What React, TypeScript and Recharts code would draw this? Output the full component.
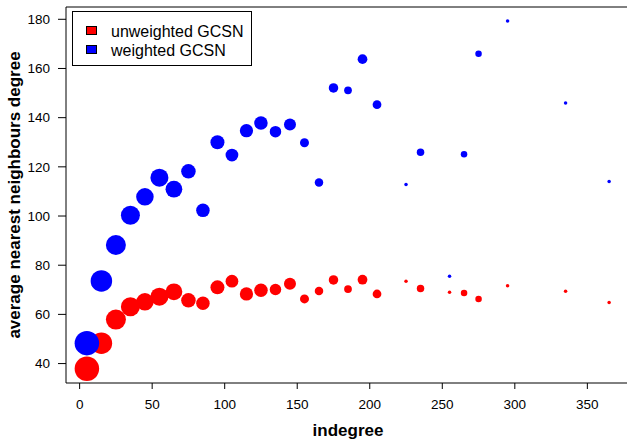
import { ReferenceLine, Scatter, ScatterChart, XAxis, YAxis } from "recharts";

// bin centres on the indegree axis
const indegree = [
  5, 15, 25, 35, 45, 55, 65, 75, 85, 95, 105, 115, 125, 135, 145, 155, 165, 175, 185, 195, 205, 225,
  235, 255, 265, 275, 295, 335, 365,
];

const unweighted = [
  37.9, 48.3, 57.9, 63.1, 65.1, 67.2, 69.2, 65.7, 64.5, 71.0, 73.5, 68.3, 69.8, 70.1, 72.5, 66.3,
  69.5, 74.0, 70.3, 74.1, 68.3, 73.5, 70.5, 69.0, 68.7, 66.3, 71.6, 69.4, 64.8,
];

const weighted = [
  48.3, 73.6, 88.2, 100.3, 107.8, 115.6, 110.9, 118.2, 102.3, 130.0, 124.8, 134.7, 137.8, 134.3,
  137.2, 129.8, 113.6, 152.1, 151.1, 163.8, 145.3, 112.8, 125.9, 75.5, 125.1, 166.0, 179.3, 146.0,
  114.0,
];

// marker size multiplier per bin (cex)
const markerCex = [
  4.9, 4.3, 4.0, 3.8, 3.5, 3.6, 3.35, 2.9, 2.7, 2.8, 2.55, 2.65, 2.7, 2.3, 2.4, 1.8, 1.7, 1.9, 1.55,
  1.95, 1.75, 0.7, 1.5, 0.7, 1.3, 1.3, 0.7, 0.7, 0.7,
];

const xTicks = [0, 50, 100, 150, 200, 250, 300, 350];
const yTicks = [40, 60, 80, 100, 120, 140, 160, 180];

const FONT = "'Liberation Sans', Arial, Helvetica, sans-serif";
const CEX_PX = 2.5;
const X_DOMAIN: [number, number] = [-9.4, 379.4];
const Y_DOMAIN: [number, number] = [32.1, 185];

const unweightedRows = indegree.map((x, i) => ({ x, y: unweighted[i], cex: markerCex[i] }));
const weightedRows = indegree.map((x, i) => ({ x, y: weighted[i], cex: markerCex[i] }));

const dot = (color: string) => (props: any) =>
  props.cx == null ? <g /> : <circle cx={props.cx} cy={props.cy} r={props.payload.cex * CEX_PX} fill={color} />;

const legendItems = [
  { label: "unweighted GCSN", color: "#ff0000" },
  { label: "weighted GCSN", color: "#0000ff" },
];

export default function App() {
  return (
    <div
      style={{
        position: "absolute",
        left: 0,
        top: 0,
        width: 627,
        height: 444,
        overflow: "hidden",
        background: "#fff",
        fontFamily: FONT,
      }}
    >
      <ScatterChart width={640} height={444} margin={{ top: 7, right: 10, bottom: 0, left: 0 }}>
        <XAxis
          type="number"
          dataKey="x"
          domain={X_DOMAIN}
          ticks={xTicks}
          allowDataOverflow
          height={61}
          tickSize={6}
          tickMargin={10}
          tick={{ fill: "#000", fontSize: 13.5, fontFamily: FONT }}
          tickLine={{ stroke: "#000" }}
          axisLine={{ stroke: "#000" }}
          label={{
            value: "indegree",
            position: "center",
            dy: 16,
            style: { fontSize: 17, fontWeight: "bold", fill: "#000", fontFamily: FONT },
          }}
        />
        <YAxis
          type="number"
          dataKey="y"
          domain={Y_DOMAIN}
          ticks={yTicks}
          allowDataOverflow
          width={66}
          tickSize={8}
          tickMargin={8}
          tick={{ fill: "#000", fontSize: 13.5, fontFamily: FONT }}
          tickLine={{ stroke: "#000" }}
          axisLine={{ stroke: "#000" }}
          label={{
            value: "average nearest neighbours degree",
            angle: -90,
            position: "center",
            dx: -19.5,
            style: { fontSize: 17, fontWeight: "bold", fill: "#000", fontFamily: FONT },
          }}
        />
        <ReferenceLine y={Y_DOMAIN[1]} stroke="#000" strokeWidth={1} />
        <Scatter data={unweightedRows} shape={dot("#ff0000")} isAnimationActive={false} />
        <Scatter data={weightedRows} shape={dot("#0000ff")} isAnimationActive={false} />
      </ScatterChart>

      <div
        style={{
          position: "absolute",
          left: 71.5,
          top: 11,
          width: 180,
          height: 55,
          border: "1px solid #000",
          background: "#fff",
          boxSizing: "border-box",
        }}
      />
      {legendItems.map((item, i) => (
        <div key={item.label}>
          <div
            style={{
              position: "absolute",
              left: 85.5,
              top: 26 + i * 19,
              width: 11,
              height: 9,
              background: item.color,
              border: "1px solid #000",
              boxSizing: "border-box",
            }}
          />
          <span
            style={{
              position: "absolute",
              left: 111,
              top: 21.5 + i * 19,
              fontSize: 16,
              lineHeight: "19px",
              color: "#000",
              whiteSpace: "nowrap",
            }}
          >
            {item.label}
          </span>
        </div>
      ))}
    </div>
  );
}
